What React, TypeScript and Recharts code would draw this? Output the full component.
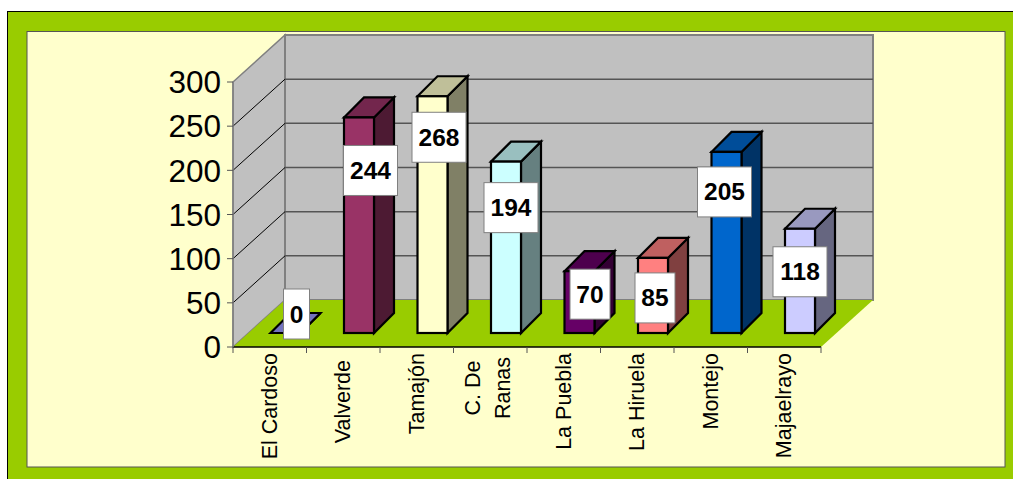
import React from "react";
import { BarChart, Bar, XAxis, YAxis, CartesianGrid, LabelList } from "recharts";

const towns = ["El Cardoso", "Valverde", "Tamajón", "C. De Ranas", "La Puebla", "La Hiruela", "Montejo", "Majaelrayo"];
const values = [0, 244, 268, 194, 70, 85, 205, 118];
const yTicks = [0, 50, 100, 150, 200, 250, 300];
const barColors = ["#9999FF", "#993366", "#FFFFCC", "#CCFFFF", "#660066", "#FF8080", "#0066CC", "#CCCCFF"];

// the value boxes were dragged by hand in the original, so each has its own nudge
const labelNudgeX = [11, 11.5, 6.5, 5, 10.5, 2, -2, 0];
const labelNudgeY = [-19, 53, 41, 46, 23, 40, 40, 43];

const data = towns.map((name, i) => ({ name, value: values[i] }));

const FONT = '"Liberation Sans", Arial, sans-serif';
const LEFT = 233;
const RIGHT = 821;
const TOP = 82;
const BOTTOM = 347;
// chart depth
const DX = 52;
const DY = 47;
// bar position and depth on the floor
const BAR_SHIFT_X = 15.5;
const BAR_SHIFT_Y = 14;
const BAR_DX = 20;
const BAR_DY = 20;
const BAND = (RIGHT - LEFT) / towns.length;

const shade = (hex: string, k: number) => {
  const n = parseInt(hex.slice(1), 16);
  const c = [(n >> 16) & 255, (n >> 8) & 255, n & 255].map((v) => Math.round(v * k));
  return `rgb(${c[0]},${c[1]},${c[2]})`;
};

const Bar3D = (props: any) => {
  const { x, y, width, height, index } = props;
  const color = barColors[index];
  const l = x + BAR_SHIFT_X;
  const r = l + width;
  const t = y - BAR_SHIFT_Y;
  const b = t + height;
  const edge = { stroke: "#000", strokeWidth: 2.2 };
  return (
    <g>
      <polygon
        points={`${r},${t} ${r + BAR_DX},${t - BAR_DY} ${r + BAR_DX},${b - BAR_DY} ${r},${b}`}
        fill={shade(color, 0.5)}
        {...edge}
      />
      <polygon
        points={`${l},${t} ${l + BAR_DX},${t - BAR_DY} ${r + BAR_DX},${t - BAR_DY} ${r},${t}`}
        fill={shade(color, 0.75)}
        {...edge}
      />
      <rect x={l} y={t} width={width} height={height} fill={color} {...edge} />
    </g>
  );
};

const ValueBox = (props: any) => {
  const { x, y, width, index, value } = props;
  const text = String(value);
  const w = 12 + text.length * 14;
  const cx = x + width / 2 + BAR_SHIFT_X + labelNudgeX[index];
  const cy = y - BAR_SHIFT_Y + labelNudgeY[index];
  return (
    <g>
      <rect x={cx - w / 2} y={cy - 25} width={w} height={50} fill="#fff" stroke="#808080" strokeWidth={1} />
      <text x={cx} y={cy + 8.5} textAnchor="middle" fontFamily={FONT} fontSize={24.5} fontWeight="bold" fill="#000">
        {text}
      </text>
    </g>
  );
};

const TownTick = (props: any) => {
  const { x, y, payload, index } = props;
  const label: string = payload.value;
  const common = { fontFamily: FONT, fontSize: 21.5, fill: "#000" };
  // tick marks sit between the categories, not under them
  const marks = (
    <g stroke="#555" strokeWidth={1}>
      {index === 0 && <line x1={x - BAND / 2} y1={BOTTOM} x2={x - BAND / 2} y2={BOTTOM + 6} />}
      <line x1={x + BAND / 2} y1={BOTTOM} x2={x + BAND / 2} y2={BOTTOM + 6} />
    </g>
  );
  if (label === "C. De Ranas") {
    return (
      <g>
        {marks}
        <g transform={`translate(${x},${BOTTOM + 41}) rotate(-90)`}>
          <text x={0} y={-10} textAnchor="middle" {...common}>C. De</text>
          <text x={0} y={20} textAnchor="middle" {...common}>Ranas</text>
        </g>
      </g>
    );
  }
  const top = label === "Valverde" ? BOTTOM + 13 : BOTTOM + 6;
  return (
    <g>
      {marks}
      <text transform={`translate(${x + 7},${top}) rotate(-90)`} textAnchor="end" {...common}>
        {label}
      </text>
    </g>
  );
};

// one grid value = a line across the side wall and a line across the back wall
const WallLine = (props: any) => {
  const { x1, x2, y1 } = props;
  if (y1 <= TOP + 1 || y1 >= BOTTOM - 1) return <g key={props.key} />;
  return (
    <g key={props.key}>
      <line x1={x1} y1={y1} x2={x1 + DX} y2={y1 - DY} stroke="#000" strokeWidth={1} />
      <line x1={x1 + DX} y1={y1 - DY} x2={x2 + DX} y2={y1 - DY} stroke="#555" strokeWidth={1.5} />
    </g>
  );
};

const Backdrop = () => (
  <svg width={1013} height={479} style={{ position: "absolute", left: 0, top: 0 }}>
    <rect x={7.5} y={11.5} width={1020} height={480} fill="#99CC00" stroke="#000" strokeWidth={1} />
    <rect x={27} y={31.5} width={978} height={435.5} fill="#FFFFCC" stroke="#555" strokeWidth={1} />
    <polygon
      points={`${LEFT},${TOP} ${LEFT + DX},${TOP - DY} ${LEFT + DX},${BOTTOM - DY} ${LEFT},${BOTTOM}`}
      fill="#C0C0C0"
      stroke="#808080"
      strokeWidth={1.5}
    />
    <rect
      x={LEFT + DX}
      y={TOP - DY}
      width={RIGHT - LEFT}
      height={BOTTOM - TOP}
      fill="#C0C0C0"
      stroke="#808080"
      strokeWidth={2}
    />
    <polygon
      points={`${LEFT},${BOTTOM} ${RIGHT},${BOTTOM} ${RIGHT + DX},${BOTTOM - DY} ${LEFT + DX},${BOTTOM - DY}`}
      fill="#99CC00"
    />
  </svg>
);

export default function App() {
  return (
    <div style={{ position: "absolute", left: 0, top: 0, width: 1013, height: 479, overflow: "hidden" }}>
      <Backdrop />
      <div style={{ position: "absolute", left: 0, top: 0 }}>
        <BarChart
          width={1013}
          height={479}
          data={data}
          margin={{ top: TOP, right: 1013 - RIGHT, bottom: 0, left: 0 }}
          barCategoryGap={0}
        >
          <CartesianGrid vertical={false} horizontal={WallLine as any} stroke="#555" />
          <XAxis
            dataKey="name"
            height={479 - BOTTOM}
            interval={0}
            tick={<TownTick />}
            tickLine={false}
            axisLine={{ stroke: "#000", strokeWidth: 1.5 }}
          />
          <YAxis
            width={LEFT}
            domain={[0, 300]}
            ticks={yTicks}
            tickSize={6}
            tickMargin={6}
            tickLine={{ stroke: "#555" }}
            axisLine={{ stroke: "#808080", strokeWidth: 1.5 }}
            tick={{ fontFamily: FONT, fontSize: 31.5, fill: "#000" }}
          />
          <Bar dataKey="value" barSize={30} shape={<Bar3D />} isAnimationActive={false}>
            <LabelList dataKey="value" content={<ValueBox />} />
          </Bar>
        </BarChart>
      </div>
    </div>
  );
}
